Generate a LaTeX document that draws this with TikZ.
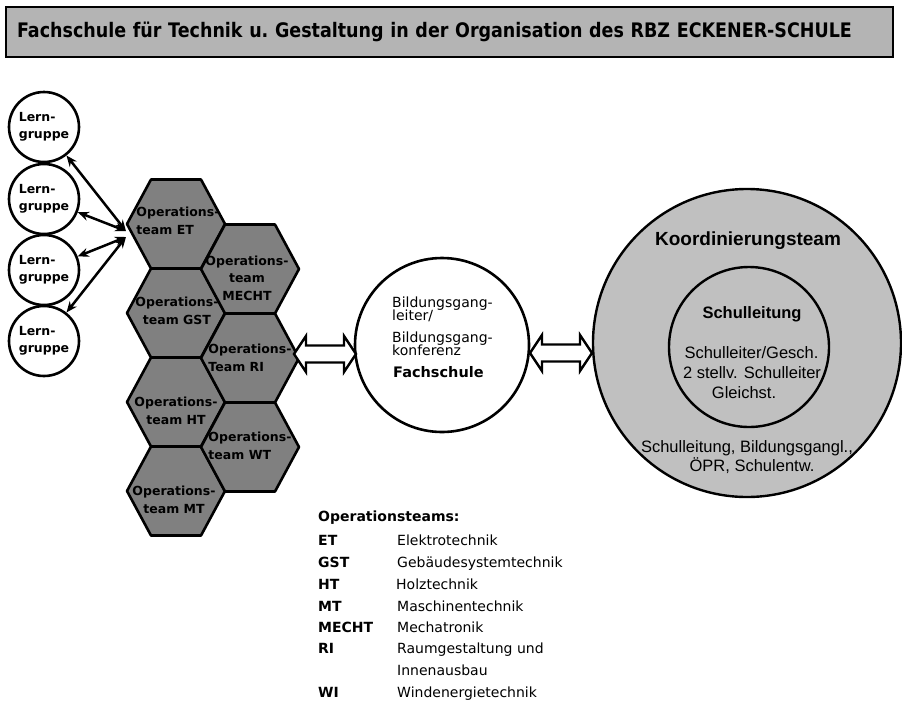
\documentclass[tikz,border=0pt]{standalone}
\usepackage{fontspec}
\setmainfont{DejaVu Sans}
\newfontfamily\arialfont{Liberation Sans}
\newfontfamily\titlefont[FakeStretch=0.875]{DejaVu Sans}
\usetikzlibrary{arrows.meta}
\definecolor{titlegray}{RGB}{180,180,180}
\definecolor{circgray}{RGB}{192,192,192}
\definecolor{hexgray}{RGB}{128,128,128}
\newcommand\hexagonat[2]{\draw[hexline] ({#1-49},{#2}) -- ({#1-25},{#2-44.5}) -- ({#1+25},{#2-44.5}) -- ({#1+49},{#2}) -- ({#1+25},{#2+44.5}) -- ({#1-25},{#2+44.5}) -- cycle;}
\newcommand\blockarrowat[3]{\draw[blockline] ({#1},{#3}) -- ({#1+12},{#3-18}) -- ({#1+12},{#3-8.5}) -- ({#2-12},{#3-8.5}) -- ({#2-12},{#3-18}) -- ({#2},{#3}) -- ({#2-12},{#3+18}) -- ({#2-12},{#3+8.5}) -- ({#1+12},{#3+8.5}) -- ({#1+12},{#3+18}) -- cycle;}
\begin{document}
\begin{tikzpicture}[x=1pt,y=-1pt,
  titlebar/.style={draw=black, line width=1.2pt, fill=titlegray, minimum width=887pt, minimum height=50pt, text width=865pt, inner xsep=11pt, align=left, font={\titlefont\fontsize{20}{22}\selectfont\bfseries\frenchspacing}},
  lern/.style={circle, draw=black, line width=2.6pt, fill=white, minimum size=70pt, inner sep=0pt, align=left, font={\fontsize{12.5}{17}\selectfont\bfseries}},
  lernarrow/.style={{Stealth[length=11pt,width=9pt]}-{Stealth[length=11pt,width=9pt]}, line width=2.5pt},
  hexline/.style={draw=black, line width=2.6pt, fill=hexgray, line join=round},
  hexlabel/.style={inner sep=0pt, font={\fontsize{12.5}{17.5}\selectfont\bfseries}},
  blockline/.style={draw=black, fill=white, line width=2.4pt, line join=miter},
  midtext/.style={anchor=base west, inner sep=0pt, font={\fontsize{14}{14}\selectfont}},
  rtext/.style={anchor=base, inner sep=0pt, font={\arialfont\fontsize{16.5}{16.5}\selectfont}},
  legabbr/.style={anchor=base west, inner sep=0pt, font={\fontsize{14}{14}\selectfont\bfseries}},
  legdesc/.style={anchor=base west, inner sep=0pt, font={\fontsize{14}{14}\selectfont}}
]
\useasboundingbox (0,0) rectangle (902,702);

% title
\node[titlebar] (title) at (449.5,32) {Fachschule für Technik u. Gestaltung in der Organisation des RBZ ECKENER-SCHULE};

% hexagons
\hexagonat{176}{224}
\hexagonat{176}{313}
\hexagonat{176}{402}
\hexagonat{176}{491}
\hexagonat{250}{269}
\hexagonat{250}{358}
\hexagonat{250}{447}

\node[hexlabel, align=left] (et) at (178,221) {Operations-\\team ET};
\node[hexlabel, align=center] (mecht) at (247,278) {Operations-\\team\\MECHT};
\node[hexlabel, align=center] (gst) at (177,311) {Operations-\\team GST};
\node[hexlabel, align=left] (ri) at (250,358) {Operations-\\Team RI};
\node[hexlabel, align=center] (ht) at (176,411) {Operations-\\team HT};
\node[hexlabel, align=left] (wt) at (250,446) {Operations-\\team WT};
\node[hexlabel, align=center] (mt) at (174,500) {Operations-\\team MT};

% Lerngruppen
\node[lern] (l1) at (44,127) {Lern-\\gruppe};
\node[lern] (l2) at (44,199) {Lern-\\gruppe};
\node[lern] (l3) at (44,270) {Lern-\\gruppe};
\node[lern] (l4) at (44,341) {Lern-\\gruppe};
\coordinate (hubA) at (126,231);
\coordinate (hubB) at (126,237);
\draw[lernarrow] (hubA) -- (l1);
\draw[lernarrow] (hubA) -- (l2);
\draw[lernarrow] (hubB) -- (l3);
\draw[lernarrow] (hubB) -- (l4);

% middle circle
\node[circle, draw=black, line width=2.6pt, fill=white, minimum size=174pt, inner sep=0pt] (bild) at (442,345) {};
\node[midtext] (b1) at (392,307) {Bildungsgang-};
\node[midtext] (b2) at (392,320) {leiter/};
\node[midtext] (b3) at (392,342) {Bildungsgang-};
\node[midtext] (b4) at (392,355) {konferenz};
\node[midtext, font={\fontsize{14.5}{14}\selectfont\bfseries}] (b5) at (393,377) {Fachschule};

% right circles
\node[circle, draw=black, line width=2.4pt, fill=circgray, minimum size=308pt, inner sep=0pt] (koord) at (747,343) {};
\node[circle, draw=black, line width=2.4pt, fill=circgray, minimum size=160pt, inner sep=0pt] (sl) at (749,347) {};
\node[rtext, font={\arialfont\fontsize{19}{19}\selectfont\bfseries}] (kt) at (748,245) {Koordinierungsteam};
\node[rtext, font={\arialfont\fontsize{16.5}{16.5}\selectfont\bfseries}] (slt) at (752,318) {Schulleitung};
\node[rtext] (s2) at (751.5,358) {Schulleiter/Gesch.};
\node[rtext] (s3) at (752,378) {2 stellv. Schulleiter};
\node[rtext] (s4) at (744,398) {Gleichst.};
\node[rtext] (s5) at (747,452) {Schulleitung, Bildungsgangl.,};
\node[rtext] (s6) at (752,471) {ÖPR, Schulentw.};

% block arrows
\blockarrowat{294}{356}{354}
\blockarrowat{530}{592}{353}

% legend
\node[legabbr] (lt) at (318,521) {Operationsteams:};
\node[legabbr] (k1) at (318,545) {ET};
\node[legdesc] (d1) at (397,545) {Elektrotechnik};
\node[legabbr] (k2) at (318,567) {GST};
\node[legdesc] (d2) at (397,567) {Gebäudesystemtechnik};
\node[legabbr] (k3) at (318,589) {HT};
\node[legdesc] (d3) at (396,589) {Holztechnik};
\node[legabbr] (k4) at (318,611) {MT};
\node[legdesc] (d4) at (397,611) {Maschinentechnik};
\node[legabbr] (k5) at (318,632) {MECHT};
\node[legdesc] (d5) at (397,632) {Mechatronik};
\node[legabbr] (k6) at (318,653) {RI};
\node[legdesc] (d6) at (397,653) {Raumgestaltung und};
\node[legdesc] (d7) at (397,675) {Innenausbau};
\node[legabbr] (k8) at (318,697) {WI};
\node[legdesc] (d8) at (397,697) {Windenergietechnik};
\end{tikzpicture}
\end{document}
